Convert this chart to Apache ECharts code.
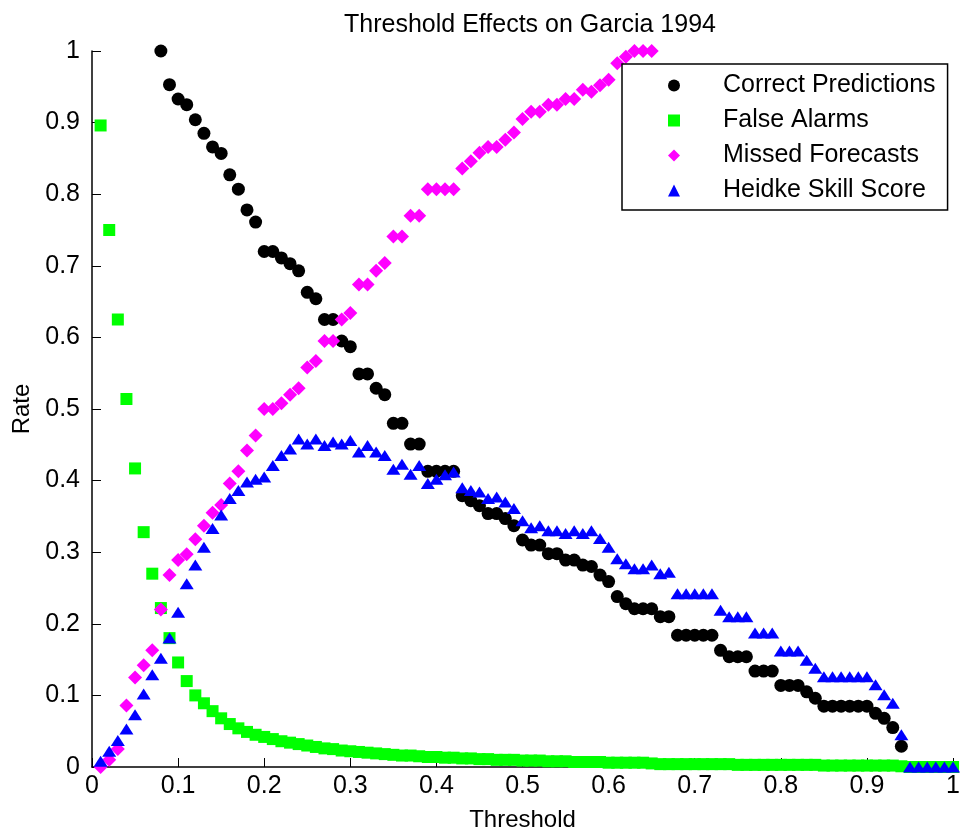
<!DOCTYPE html>
<html>
<head>
<meta charset="utf-8">
<script src="https://cdn.jsdelivr.net/npm/echarts@6/dist/echarts.min.js"></script>
<style>
html,body{margin:0;padding:0;background:#fff;}
#chart{width:963px;height:837px;}
</style>
</head>
<body>
<div id="chart"></div>
<script>
// Threshold values (x)
const thresholds = [
0.01,0.02,0.03,0.04,0.05,0.06,0.07,0.08,0.09,0.10,
0.11,0.12,0.13,0.14,0.15,0.16,0.17,0.18,0.19,0.20,
0.21,0.22,0.23,0.24,0.25,0.26,0.27,0.28,0.29,0.30,
0.31,0.32,0.33,0.34,0.35,0.36,0.37,0.38,0.39,0.40,
0.41,0.42,0.43,0.44,0.45,0.46,0.47,0.48,0.49,0.50,
0.51,0.52,0.53,0.54,0.55,0.56,0.57,0.58,0.59,0.60,
0.61,0.62,0.63,0.64,0.65,0.66,0.67,0.68,0.69,0.70,
0.71,0.72,0.73,0.74,0.75,0.76,0.77,0.78,0.79,0.80,
0.81,0.82,0.83,0.84,0.85,0.86,0.87,0.88,0.89,0.90,
0.91,0.92,0.93,0.94,0.95,0.96,0.97,0.98,0.99,1.00
];

const correctPredictions = [
null,null,null,null,null,null,null,1.0,0.953,0.933,
0.925,0.904,0.885,0.866,0.857,0.827,0.807,0.778,0.761,0.72,
0.72,0.711,0.703,0.693,0.663,0.654,0.625,0.625,0.595,0.587,
0.549,0.549,0.529,0.52,0.48,0.48,0.451,0.451,0.413,0.413,
0.413,0.413,0.379,0.372,0.365,0.354,0.354,0.347,0.337,0.317,
0.31,0.31,0.298,0.298,0.289,0.289,0.282,0.28,0.268,0.259,
0.238,0.228,0.221,0.221,0.221,0.21,0.21,0.184,0.184,0.184,
0.184,0.184,0.163,0.154,0.154,0.154,0.134,0.134,0.134,0.114,
0.114,0.114,0.105,0.096,0.085,0.085,0.085,0.085,0.085,0.085,
0.075,0.068,0.055,0.029,null,null,null,null,null,null
];

const falseAlarms = [
0.896,0.75,0.625,0.514,0.417,0.328,0.27,0.222,0.18,0.146,
0.12,0.1,0.089,0.078,0.068,0.06,0.054,0.049,0.045,0.042,
0.039,0.036,0.034,0.032,0.03,0.028,0.026,0.025,0.023,0.022,
0.021,0.02,0.019,0.018,0.017,0.016,0.016,0.015,0.014,0.014,
0.013,0.013,0.012,0.012,0.011,0.011,0.010,0.010,0.010,0.009,
0.009,0.009,0.008,0.008,0.008,0.007,0.007,0.007,0.007,0.006,
0.006,0.006,0.006,0.006,0.005,0.004,0.004,0.004,0.004,0.004,
0.004,0.004,0.004,0.004,0.003,0.003,0.003,0.003,0.003,0.003,
0.003,0.003,0.003,0.003,0.002,0.002,0.002,0.002,0.002,0.002,
0.002,0.002,0.002,0.001,0,0,0,0,0,0
];

const missedForecasts = [
0,0.01,0.025,0.086,0.125,0.142,0.163,0.22,0.268,0.289,
0.297,0.318,0.337,0.355,0.366,0.396,0.413,0.442,0.463,0.5,
0.5,0.508,0.52,0.529,0.558,0.567,0.595,0.595,0.625,0.634,
0.674,0.674,0.693,0.704,0.741,0.741,0.77,0.77,0.807,0.807,
0.807,0.807,0.836,0.846,0.858,0.866,0.866,0.876,0.886,0.905,
0.915,0.915,0.925,0.925,0.933,0.933,0.946,0.943,0.952,0.96,
0.983,0.992,1,1,1,null,null,null,null,null,
null,null,null,null,null,null,null,null,null,null,
null,null,null,null,null,null,null,null,null,null,
null,null,null,null,null,null,null,null,null,null
];

const heidkeSkill = [
0.008,0.022,0.037,0.053,0.073,0.102,0.129,0.152,0.18,0.216,
0.256,0.282,0.307,0.333,0.352,0.375,0.386,0.398,0.402,0.405,
0.421,0.435,0.444,0.458,0.451,0.458,0.449,0.454,0.451,0.456,
0.44,0.449,0.44,0.435,0.416,0.423,0.409,0.421,0.396,0.402,
0.408,0.412,0.39,0.386,0.384,0.375,0.377,0.37,0.361,0.344,
0.334,0.337,0.33,0.33,0.326,0.33,0.326,0.33,0.319,0.307,
0.291,0.284,0.277,0.277,0.282,0.27,0.272,0.242,0.242,0.242,
0.242,0.242,0.219,0.21,0.21,0.21,0.187,0.187,0.187,0.162,
0.162,0.162,0.149,0.138,0.126,0.126,0.126,0.126,0.126,0.126,
0.115,0.101,0.089,0.045,0,0,0,0,0,0
];

const seriesNames = ['Correct Predictions','False Alarms','Missed Forecasts','Heidke Skill Score'];

function pairs(ys){
  const out = [];
  for (let i = 0; i < thresholds.length; i++) {
    if (ys[i] !== null) out.push([thresholds[i], ys[i]]);
  }
  return out;
}

const FONT = "'Liberation Sans', Arial, sans-serif";
const chart = echarts.init(document.getElementById('chart'), null, {renderer:'canvas'});

chart.setOption({
  animation: false,
  backgroundColor: '#fff',
  title: {
    text: 'Threshold Effects on Garcia 1994',
    left: 525, top: 8, textAlign: 'center',
    textStyle: {fontFamily: FONT, fontSize: 25, fontWeight: 'normal', color: '#000'}
  },
  grid: {left: 92, right: 5, top: 51, bottom: 68, containLabel: false},
  legend: {
    orient: 'vertical',
    left: 622, top: 64,
    padding: [9, 12, 7, 46],
    itemGap: 10,
    itemWidth: 12, itemHeight: 12,
    borderColor: '#000', borderWidth: 1.5,
    backgroundColor: '#fff',
    textStyle: {fontFamily: FONT, fontSize: 25, color: '#000', lineHeight: 24, padding: [0,0,0,38]},
    data: seriesNames
  },
  xAxis: {
    type: 'value', min: 0, max: 1, interval: 0.1,
    name: 'Threshold', nameLocation: 'middle', nameGap: 41,
    nameTextStyle: {fontFamily: FONT, fontSize: 24, color: '#000'},
    axisLine: {lineStyle: {color: '#000', width: 1.5}},
    axisTick: {inside: true, length: 9, lineStyle: {color: '#000'}},
    axisLabel: {fontFamily: FONT, fontSize: 25, color: '#000', margin: 7},
    splitLine: {show: false}
  },
  yAxis: {
    type: 'value', min: 0, max: 1, interval: 0.1,
    name: 'Rate', nameLocation: 'middle', nameGap: 58,
    nameTextStyle: {fontFamily: FONT, fontSize: 24, color: '#000'},
    axisLine: {show: true, lineStyle: {color: '#000', width: 1.5}},
    axisTick: {show: true, inside: true, length: 9, lineStyle: {color: '#000'}},
    axisLabel: {fontFamily: FONT, fontSize: 25, color: '#000', margin: 12},
    splitLine: {show: false}
  },
  series: [
    {name: seriesNames[0], type: 'scatter', symbol: 'circle', symbolSize: 13, clip: false,
     itemStyle: {color: '#000000', opacity: 1}, data: pairs(correctPredictions)},
    {name: seriesNames[1], type: 'scatter', symbol: 'rect', symbolSize: 12, clip: false,
     itemStyle: {color: '#00ff00', opacity: 1}, data: pairs(falseAlarms)},
    {name: seriesNames[2], type: 'scatter', symbol: 'diamond', symbolSize: 14, clip: false,
     itemStyle: {color: '#ff00ff', opacity: 1}, data: pairs(missedForecasts)},
    {name: seriesNames[3], type: 'scatter', symbol: 'triangle', symbolSize: [14, 11], clip: false,
     itemStyle: {color: '#0000ff', opacity: 1}, data: pairs(heidkeSkill)}
  ]
});
</script>
</body>
</html>
